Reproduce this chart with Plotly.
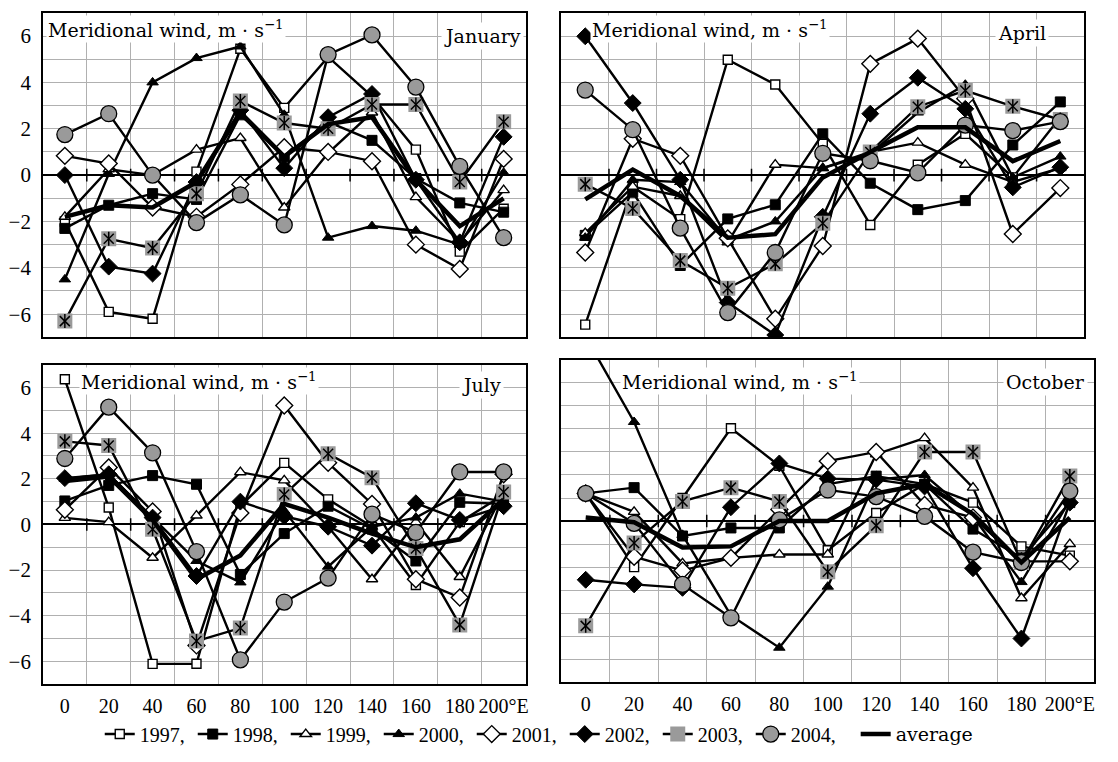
import plotly.graph_objects as go

LON = [0, 20, 40, 60, 80, 100, 120, 140, 160, 180, 200]
LON_LABELS = ["0", "20", "40", "60", "80", "100", "120", "140", "160", "180", "200°E"]
GRID_X = [10, 30, 50, 70, 90, 110, 130, 150, 170, 190]
SERIES_NAMES = ["1997", "1998", "1999", "2000", "2001", "2002", "2003", "2004", "average"]
MONTHS = ["January", "April", "July", "October"]
Y_TITLE = "Meridional wind, m · s<sup>−1</sup>"

# January
JAN_1997 = [-2.0, -5.9, -6.2, 0.15, 5.45, 2.9, 5.1, 3.4, 1.1, -3.3, -1.45]
JAN_1998 = [-2.3, -1.3, -0.8, -1.05, 2.6, 0.8, 2.3, 1.5, -0.15, -1.2, -1.6]
JAN_1999 = [-1.8, 0.25, 0.0, 1.1, 1.6, -1.4, 0.95, 2.7, -0.95, -2.9, -0.65]
JAN_2000 = [-4.5, 0.05, 4.0, 5.05, 5.55, 2.6, -2.7, -2.2, -2.4, -3.0, 0.1]
JAN_2001 = [0.83, 0.5, -1.4, -1.8, -0.4, 1.2, 1.0, 0.6, -3.0, -4.05, 0.7]
JAN_2002 = [0.0, -3.95, -4.25, -0.3, 2.8, 0.3, 2.5, 3.5, -0.2, -2.9, 1.65]
JAN_2003 = [-6.3, -2.75, -3.15, -0.8, 3.2, 2.25, 2.0, 3.05, 3.05, -0.3, 2.3]
JAN_2004 = [1.75, 2.65, 0.0, -2.05, -0.85, -2.15, 5.2, 6.05, 3.8, 0.38, -2.7]
JAN_AVG = [-1.8, -1.3, -1.4, -0.3, 2.7, 0.8, 2.2, 2.5, -0.2, -2.2, -1.0]

# April
APR_1997 = [-6.45, -0.5, -1.9, 4.98, 3.91, 1.35, -2.15, 0.45, 1.78, -0.1, 2.5]
APR_1998 = [-2.6, -0.74, -3.9, -1.89, -1.28, 1.78, -0.35, -1.49, -1.1, 1.3, 3.16]
APR_1999 = [-2.5, -0.5, -0.9, -2.9, 0.45, 0.3, 1.0, 1.4, 0.45, -0.3, 0.3]
APR_2000 = [-2.7, -0.2, -0.3, -2.8, -2.0, 0.3, 0.9, 2.7, 3.9, -0.1, 0.8]
APR_2001 = [-3.34, 1.57, 0.83, -2.73, -6.2, -3.06, 4.8, 5.89, 3.3, -2.54, -0.56]
APR_2002 = [5.99, 3.11, -0.2, -5.5, -6.9, -1.8, 2.65, 4.2, 2.86, -0.53, 0.34]
APR_2003 = [-0.39, -1.44, -3.69, -4.88, -3.83, -2.08, 1.0, 2.95, 3.65, 2.97, 2.4]
APR_2004 = [3.67, 1.96, -2.29, -5.93, -3.34, 0.94, 0.62, 0.1, 2.16, 1.92, 2.31]
APR_AVG = [-1.05, 0.24, -0.9, -2.7, -2.55, -0.1, 1.0, 2.06, 2.06, 0.6, 1.47]

# July
JUL_1997 = [6.36, 0.74, -6.11, -6.1, 0.8, 2.7, 1.1, -0.1, -2.65, 0.1, 1.3]
JUL_1998 = [1.03, 1.71, 2.14, 1.76, -2.19, -0.4, 0.8, -0.2, -1.6, 0.97, 0.9]
JUL_1999 = [0.29, 0.1, -1.46, 0.39, 2.29, 1.93, -0.1, -2.4, 0.1, -2.3, 1.4]
JUL_2000 = [2.0, 2.2, 0.3, -1.6, -2.54, 0.6, -1.85, -0.1, 0.3, 1.35, 1.0]
JUL_2001 = [0.64, 2.5, 0.57, -5.3, 0.5, 5.21, 2.7, 0.9, -2.4, -3.2, 2.2]
JUL_2002 = [2.03, 2.2, 0.3, -2.26, 1.0, 0.36, -0.1, -0.93, 0.93, 0.2, 0.8]
JUL_2003 = [3.64, 3.46, -0.21, -5.11, -4.54, 1.31, 3.1, 2.05, -1.05, -4.4, 1.42]
JUL_2004 = [2.89, 5.14, 3.14, -1.19, -5.93, -3.4, -2.35, 0.45, -0.35, 2.3, 2.3]
JUL_AVG = [1.9, 2.1, 0.2, -2.4, -1.36, 0.9, 0.3, -0.4, -1.0, -0.65, 1.1]

# October
OCT_1997 = [1.2, -2.0, 1.0, 4.03, 2.4, -1.27, 0.35, 1.6, 0.8, -1.1, -1.5]
OCT_1998 = [1.2, 1.45, -0.65, -0.3, -0.3, 1.6, 1.95, 1.6, -0.35, -1.6, 0.8]
OCT_1999 = [1.2, 0.4, -1.84, -1.6, -1.45, -1.45, 2.9, 3.6, 1.45, -3.35, -1.0]
OCT_2000 = [8.0, 4.3, -0.6, -4.1, -5.5, -2.85, 1.8, 2.0, 0.2, -2.65, 0.9]
OCT_2001 = [1.2, -1.55, -2.15, -1.6, 0.5, 2.6, 3.0, 0.7, 0.15, -1.75, -1.75]
OCT_2002 = [-2.55, -2.75, -2.9, 0.6, 2.5, 1.84, 1.8, 1.5, -2.05, -5.1, 0.8]
OCT_2003 = [-4.55, -0.95, 0.85, 1.45, 0.85, -2.2, -0.2, 3.0, 3.0, -1.8, 1.95]
OCT_2004 = [1.2, -0.1, -2.75, -4.2, 0.05, 1.35, 1.06, 0.2, -1.35, -1.8, 1.3]
OCT_AVG = [0.15, -0.05, -1.15, -1.1, 0.0, 0.0, 1.2, 1.6, 0.3, -1.8, 0.15]

PANEL_DATA = [
    [JAN_1997, JAN_1998, JAN_1999, JAN_2000, JAN_2001, JAN_2002, JAN_2003, JAN_2004, JAN_AVG],
    [APR_1997, APR_1998, APR_1999, APR_2000, APR_2001, APR_2002, APR_2003, APR_2004, APR_AVG],
    [JUL_1997, JUL_1998, JUL_1999, JUL_2000, JUL_2001, JUL_2002, JUL_2003, JUL_2004, JUL_AVG],
    [OCT_1997, OCT_1998, OCT_1999, OCT_2000, OCT_2001, OCT_2002, OCT_2003, OCT_2004, OCT_AVG],
]

# page body has an 8px margin: the figure is drawn 8px in from the window corner
OFF = 8
W, H = 1118 - 2 * OFF, 762 - 2 * OFF
GRID = "#b0b0b0"
GRAY = "#9a9a9a"
NUM_FONT = "Liberation Serif"
TXT_FONT = "DejaVu Serif"


def px(x):
    return (x - OFF) / W


def py(y):
    return 1 - (y - OFF) / H


# panel frames in window pixels: (left, right, top, bottom)
FRAMES = [(43, 527, 13, 345), (563, 1087, 13, 345), (43, 527, 373, 700), (563, 1097, 368, 698)]
TITLE_POS = [(46, 29), (592, 29), (79, 390), (622, 390)]
MONTH_POS = [(525, 37), (1052, 34), (505, 394), (1091, 391)]

STYLES = [
    dict(symbol="square", color="white", size=9, lw=1.4),
    dict(symbol="square", color="black", size=10, lw=1.0),
    dict(symbol="triangle-up", color="white", size=10, lw=1.4),
    dict(symbol="triangle-up", color="black", size=10, lw=1.0),
    dict(symbol="diamond", color="white", size=13, lw=1.4),
    dict(symbol="diamond", color="black", size=13, lw=1.0),
    dict(symbol="square", color=GRAY, size=15, lw=0),
    dict(symbol="circle", color=GRAY, size=16, lw=1.3),
]

fig = go.Figure()
layout = {}
for i, (month, series) in enumerate(zip(MONTHS, PANEL_DATA)):
    sfx = "" if i == 0 else str(i + 1)
    xa, ya = "x" + sfx, "y" + sfx
    l, r, t, b = FRAMES[i]
    # small tick marks on the zero line
    fig.add_trace(go.Scatter(x=GRID_X, y=[0] * len(GRID_X), mode="markers", xaxis=xa, yaxis=ya,
                             marker=dict(symbol="line-ns", size=9, line=dict(color="black", width=1.5)),
                             showlegend=False, hoverinfo="skip"))
    for k, (name, vals) in enumerate(zip(SERIES_NAMES, series)):
        inside = all(-7 <= v <= 7 for v in vals)
        if name == "average":
            fig.add_trace(go.Scatter(x=LON, y=vals, mode="lines", name=name, xaxis=xa, yaxis=ya,
                                     line=dict(color="black", width=4.5), legendgroup=name,
                                     legend="legend2", showlegend=(i == 0)))
            continue
        st = STYLES[k]
        fig.add_trace(go.Scatter(
            x=LON, y=vals, mode="lines+markers", name=name + ",", xaxis=xa, yaxis=ya,
            line=dict(color="black", width=2.4),
            marker=dict(symbol=st["symbol"], color=st["color"], size=st["size"],
                        line=dict(color="black", width=st["lw"])),
            cliponaxis=inside, legendgroup=name, showlegend=(i == 0)))
        if name == "2003":
            for sym in ("x-thin-open", "line-ns-open"):
                fig.add_trace(go.Scatter(
                    x=LON, y=vals, mode="markers", xaxis=xa, yaxis=ya,
                    marker=dict(symbol=sym, size=10, color="black",
                                line=dict(color="black", width=1.5)),
                    cliponaxis=inside, showlegend=False, hoverinfo="skip", legendgroup=name))
    bottom = i >= 2
    left = i in (0, 2)
    layout["xaxis" + sfx] = dict(
        domain=[px(l), px(r)], range=[-10, 210], anchor=ya,
        tickmode="array", tickvals=LON, ticktext=LON_LABELS, showticklabels=bottom,
        ticks="", showgrid=False, zeroline=False,
        showline=True, mirror=True, linecolor="black", linewidth=1.6,
        minor=dict(tickvals=GRID_X, showgrid=True, gridcolor=GRID, gridwidth=1.2, ticks=""),
        tickfont=dict(family=NUM_FONT, size=20, color="black"), ticklabelstandoff=3)
    layout["yaxis" + sfx] = dict(
        domain=[py(b), py(t)], range=[-7, 7], anchor=xa,
        tickmode="linear", tick0=-6, dtick=2, showticklabels=left, ticks="",
        showgrid=True, gridcolor=GRID, gridwidth=1.2,
        minor=dict(dtick=1, tick0=-7, showgrid=True, gridcolor=GRID, gridwidth=1.2, ticks=""),
        zeroline=True, zerolinecolor="black", zerolinewidth=2,
        showline=True, mirror=True, linecolor="black", linewidth=1.6,
        tickfont=dict(family=NUM_FONT, size=21, color="black"), ticklabelstandoff=6)

annotations = []
for i, month in enumerate(MONTHS):
    tx, ty = TITLE_POS[i]
    mx, my = MONTH_POS[i]
    annotations.append(dict(text=Y_TITLE, x=px(tx), y=py(ty), xref="paper", yref="paper",
                            xanchor="left", yanchor="middle", showarrow=False, bgcolor="white",
                            borderpad=1, font=dict(family=TXT_FONT, size=19, color="black")))
    annotations.append(dict(text=month, x=px(mx), y=py(my), xref="paper", yref="paper",
                            xanchor="right", yanchor="middle", showarrow=False, bgcolor="white",
                            borderpad=2, font=dict(family=TXT_FONT, size=19, color="black")))

LEGEND_FONT = dict(family=NUM_FONT, size=20, color="black")
fig.update_layout(
    width=W, height=H, margin=dict(l=0, r=0, t=0, b=0),
    paper_bgcolor="white", plot_bgcolor="white",
    showlegend=True,
    legend=dict(orientation="h", x=px(100), xanchor="left", y=py(751), yanchor="middle",
                font=LEGEND_FONT, itemwidth=30,
                entrywidth=48, entrywidthmode="pixels",
                bgcolor="rgba(0,0,0,0)", traceorder="normal", tracegroupgap=0),
    legend2=dict(orientation="h", x=px(858), xanchor="left", y=py(751), yanchor="middle",
                 font=dict(family=TXT_FONT, size=19, color="black"), itemwidth=30,
                 bgcolor="rgba(0,0,0,0)"),
    annotations=annotations,
    **layout,
)

fig.write_html("out.html")
